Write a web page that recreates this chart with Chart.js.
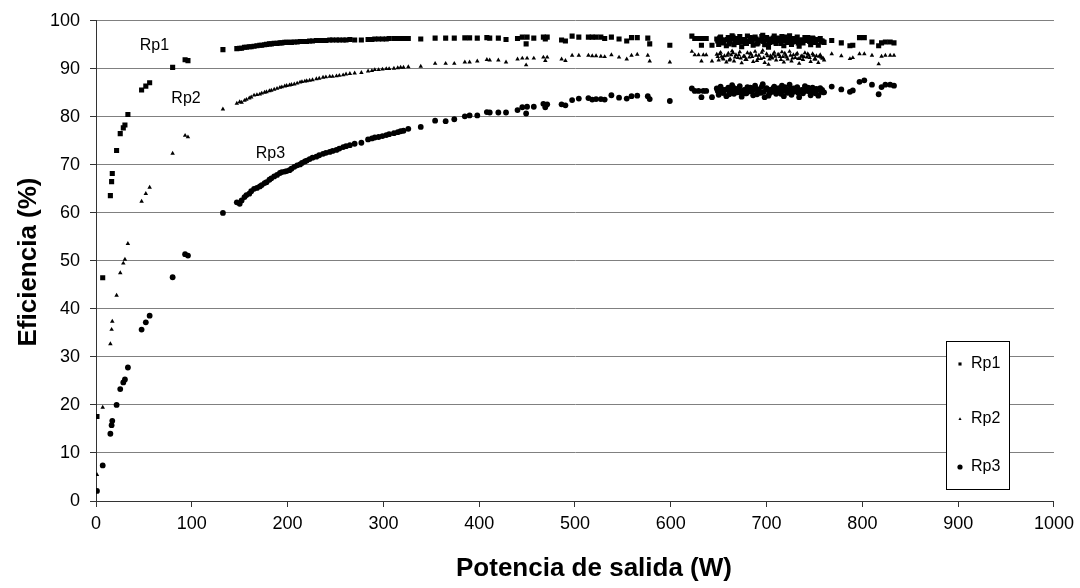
<!DOCTYPE html>
<html>
<head>
<meta charset="utf-8">
<script src="https://cdn.jsdelivr.net/npm/chart.js@4"></script>
<style>
  html, body { margin: 0; padding: 0; background: #fff; }
  #wrap { width: 1080px; height: 588px; position: relative; }
</style>
</head>
<body>
<div id="wrap"><canvas id="chart"></canvas></div>
<script>
// Potencia de salida (W), shared by the three series
const potencia = [
  1, 7, 15, 16.3, 17, 21.5, 25.3, 28.5, 30.2, 33.3,
  47.6, 52, 56, 80, 93, 96, 132.5,
  147, 150, 155, 160, 165, 171, 176, 181, 186, 192,
  197, 202, 207, 213, 218, 223, 230, 237, 244, 251,
  258, 265, 277, 284, 291, 299, 306, 315, 321, 326,
  339, 354, 365, 374, 385, 390, 398, 408, 411, 420,
  428, 440, 445, 449, 450, 457, 467, 469, 471, 486,
  490, 497, 504, 514, 518, 522, 527, 531, 538, 546,
  554, 559, 565, 576, 578, 599,
  622, 625, 629, 632, 634, 637, 643,
  648, 650, 652, 654, 656, 658, 660, 662, 664, 666,
  668, 670, 672, 674, 676, 678, 680, 682, 684, 686,
  688, 690, 692, 694, 696, 698, 700, 702, 704, 706,
  708, 710, 712, 714, 716, 718, 720, 722, 724, 726,
  728, 730, 732, 734, 736, 738, 740, 742, 744, 746,
  748, 750, 752, 754, 756, 758, 760, 653, 705, 735,
  768, 778, 787, 790, 797, 802, 810, 817, 820, 824, 829, 833,
  // second pass through the dense block
  649, 651, 655, 659, 661, 665, 667, 671, 673, 677,
  679, 683, 685, 689, 691, 695, 697, 701, 703, 707,
  709, 713, 715, 719, 721, 725, 727, 731, 733, 737,
  739, 743, 745, 749, 751, 755, 757, 759, 663, 717,
  // extra readings along the rising part
  152, 157, 162, 168, 173, 178, 183, 189, 194, 199,
  204, 210, 215, 220, 226, 233, 240, 247, 254, 261,
  270, 288, 295, 303, 311, 318
];

// Eficiencia (%)
const eficienciaRp1 = [
  17.6, 46.5, 63.6, 66.5, 68.2, 73.0, 76.5, 77.7, 78.3, 80.5,
  85.6, 86.4, 87.1, 90.3, 91.9, 91.7, 94.0,
  94.2, 94.3, 94.5, 94.6, 94.7, 94.9, 95.0, 95.2, 95.3, 95.4,
  95.5, 95.5, 95.6, 95.7, 95.7, 95.8, 95.9, 95.9, 96.0, 96.0,
  96.0, 96.1, 96.0, 96.1, 96.2, 96.2, 96.3, 96.3, 96.3, 96.3,
  96.2, 96.4, 96.4, 96.4, 96.45, 96.45, 96.4, 96.5, 96.4, 96.4,
  96.1, 96.3, 96.6, 95.2, 96.6, 96.4, 96.6, 96.2, 96.6, 96.0,
  95.8, 96.8, 96.6, 96.6, 96.6, 96.6, 96.6, 96.3, 96.6, 96.2,
  95.8, 96.5, 96.5, 96.4, 95.2, 94.9,
  96.8, 96.3, 96.3, 94.9, 96.3, 96.3, 94.9,
  96.2, 95.1, 96.6, 95.4, 96.0, 94.8, 96.5, 95.6, 96.9, 95.0,
  96.3, 95.5, 96.7, 94.6, 96.1, 95.3, 96.8, 95.7, 96.4, 94.9,
  96.6, 95.2, 96.0, 95.8, 97.0, 95.0, 96.5, 94.5, 96.2, 95.6,
  96.8, 95.3, 96.4, 95.9, 96.7, 94.8, 96.1, 95.5, 96.9, 95.1,
  96.3, 95.7, 96.6, 94.7, 96.0, 95.4, 96.5, 95.9, 96.2, 95.0,
  96.4, 95.6, 96.1, 94.9, 96.3, 95.8, 95.5, 96.0, 95.9, 95.7,
  95.9, 95.4, 94.8, 94.9, 96.5, 96.5, 95.6, 94.8, 95.4, 95.6, 95.6, 95.4,
  95.8, 96.4, 95.5, 96.1, 95.2, 96.6, 95.9, 96.3, 95.6, 96.0,
  95.3, 96.5, 95.8, 96.2, 95.4, 96.7, 95.7, 96.0, 95.5, 96.4,
  95.9, 96.2, 95.3, 96.6, 95.8, 96.1, 95.6, 96.3, 95.4, 96.0,
  95.9, 96.5, 95.7, 96.2, 95.5, 96.0, 95.8, 95.6, 96.3, 95.9,
  94.3, 94.5, 94.6, 94.8, 94.9, 95.1, 95.2, 95.3, 95.4, 95.5,
  95.5, 95.6, 95.7, 95.7, 95.8, 95.9, 95.9, 96.0, 96.0, 96.0,
  96.0, 96.1, 96.2, 96.2, 96.3, 96.3
];

const eficienciaRp2 = [
  5.5, 19.5, 32.7, 35.7, 37.4, 42.8, 47.5, 49.5, 50.3, 53.6,
  62.4, 64.0, 65.3, 72.4, 76.1, 75.8, 81.6,
  82.8, 83.1, 83.4, 83.9, 84.5, 84.7, 85.1, 85.4, 85.7, 86.1,
  86.4, 86.6, 86.8, 87.2, 87.4, 87.6, 87.9, 88.2, 88.4, 88.5,
  88.7, 89.0, 89.2, 89.5, 89.8, 89.9, 90.0, 90.2, 90.3, 90.4,
  90.5, 91.1, 91.1, 91.1, 91.4, 91.4, 91.6, 91.9, 91.8, 91.8,
  91.4, 92.0, 92.2, 90.8, 92.2, 92.2, 92.4, 91.7, 92.4, 92.0,
  91.7, 92.8, 92.8, 92.8, 92.7, 92.7, 92.6, 92.5, 92.9, 92.4,
  92.0, 92.8, 93.0, 92.8, 91.6, 91.4,
  93.6, 92.9, 92.9, 91.6, 92.9, 92.9, 91.6,
  93.0, 91.8, 93.4, 92.2, 92.7, 91.4, 93.2, 92.0, 93.7, 91.6,
  92.9, 92.3, 93.5, 91.2, 92.6, 91.9, 93.3, 92.4, 93.0, 91.5,
  93.6, 91.7, 92.8, 92.1, 93.8, 91.3, 93.1, 90.9, 92.7, 92.2,
  93.4, 91.8, 93.0, 92.5, 93.5, 91.4, 92.8, 92.0, 93.6, 91.6,
  92.9, 92.3, 93.2, 91.1, 92.6, 91.9, 93.3, 92.4, 92.8, 91.5,
  93.1, 92.0, 92.7, 91.3, 92.9, 92.2, 91.8, 92.6, 92.4, 92.1,
  93.1, 92.7, 92.1, 92.3, 93.1, 93.1, 92.8, 91.0, 92.6, 92.8, 92.8, 92.8,
  92.5, 93.1, 92.0, 92.8, 91.8, 93.3, 92.4, 92.9, 92.2, 92.6,
  91.9, 93.2, 92.5, 92.8, 92.1, 93.4, 92.3, 92.7, 92.0, 93.0,
  92.6, 92.9, 91.9, 93.2, 92.4, 92.8, 92.2, 93.0, 92.1, 92.7,
  92.5, 93.1, 92.3, 92.8, 92.0, 92.6, 92.4, 92.2, 92.9, 92.5,
  83.0, 83.6, 84.1, 84.6, 84.9, 85.2, 85.5, 85.9, 86.2, 86.5,
  86.7, 87.0, 87.3, 87.5, 87.7, 88.0, 88.3, 88.4, 88.6, 88.9,
  89.1, 89.6, 89.8, 90.0, 90.1, 90.3
];

const eficienciaRp3 = [
  2.1, 7.4, 14.0, 15.8, 16.7, 20.0, 23.3, 24.7, 25.3, 27.8,
  35.7, 37.2, 38.6, 46.6, 51.4, 51.1, 60.0,
  62.2, 61.9, 63.3, 64.0, 65.0, 65.5, 66.2, 66.9, 67.6, 68.3,
  68.6, 68.9, 69.6, 70.1, 70.7, 71.2, 71.7, 72.3, 72.7, 73.1,
  73.7, 74.1, 74.6, 75.3, 75.7, 76.0, 76.4, 76.8, 77.1, 77.5,
  77.9, 79.2, 79.1, 79.5, 80.1, 80.3, 80.3, 81.0, 80.9, 80.9,
  80.9, 81.4, 82.0, 80.7, 82.1, 82.1, 82.7, 82.0, 82.6, 82.6,
  82.4, 83.5, 83.8, 83.9, 83.6, 83.7, 83.7, 83.6, 84.5, 84.0,
  83.8, 84.3, 84.4, 84.3, 83.7, 83.3,
  85.9, 85.4, 85.4, 84.1, 85.4, 85.4, 84.1,
  85.9, 84.6, 86.3, 85.0, 85.6, 84.3, 86.1, 85.2, 86.6, 84.8,
  85.8, 85.1, 86.4, 84.2, 85.5, 84.9, 86.2, 85.3, 86.0, 84.5,
  86.5, 84.7, 85.7, 85.0, 86.8, 84.1, 86.0, 84.4, 85.6, 85.2,
  86.3, 84.8, 85.9, 85.4, 86.5, 84.3, 85.8, 85.0, 86.7, 84.6,
  85.9, 85.3, 86.2, 84.1, 85.5, 84.9, 86.4, 85.4, 86.0, 84.5,
  86.1, 85.2, 85.8, 84.4, 86.0, 85.6, 85.1, 85.7, 85.5, 85.3,
  86.3, 85.7, 85.2, 85.5, 87.3, 87.6, 86.7, 84.7, 86.2, 86.7, 86.7, 86.5,
  85.4, 86.0, 85.0, 85.7, 84.7, 86.2, 85.3, 85.9, 85.1, 85.6,
  84.9, 86.1, 85.4, 85.8, 85.0, 86.3, 85.2, 85.7, 84.9, 86.0,
  85.5, 85.9, 84.8, 86.2, 85.3, 85.8, 85.1, 86.0, 85.0, 85.6,
  85.4, 86.1, 85.2, 85.8, 84.9, 85.6, 85.3, 85.1, 85.9, 85.4,
  62.6, 63.7, 64.5, 65.2, 65.8, 66.4, 67.2, 67.9, 68.5, 68.7,
  69.2, 69.9, 70.4, 70.9, 71.5, 72.0, 72.5, 72.9, 73.4, 73.9,
  74.4, 75.5, 75.8, 76.2, 76.6, 77.0
];

const series = ['Rp1', 'Rp2', 'Rp3'];
const tituloX = 'Potencia de salida (W)';
const tituloY = 'Eficiencia (%)';

const toPoints = ys => potencia.map((x, i) => ({x: x, y: ys[i]}));

// labels next to each curve and the boxed legend, drawn after the datasets
const extras = {
  id: 'extras',
  afterDraw: (chart, args, opts) => {
    const {ctx, scales} = chart;
    ctx.save();
    ctx.fillStyle = '#000';
    ctx.font = '16px "Liberation Sans", Arial, sans-serif';
    ctx.textAlign = 'center';
    ctx.textBaseline = 'middle';
    opts.curveLabels.forEach(l => {
      ctx.fillText(l.text, scales.x.getPixelForValue(l.x), scales.y.getPixelForValue(l.y));
    });

    // legend box
    const b = opts.legendBox;
    ctx.fillStyle = '#fff';
    ctx.fillRect(b.x, b.y, b.w, b.h);
    ctx.strokeStyle = '#000';
    ctx.lineWidth = 1;
    ctx.strokeRect(b.x + 0.5, b.y + 0.5, b.w, b.h);
    ctx.textAlign = 'left';
    chart.data.datasets.forEach((ds, i) => {
      const cy = b.y + b.rows[i];
      ctx.fillStyle = '#000';
      Chart.helpers.drawPoint(ctx, {
        pointStyle: ds.pointStyle, radius: b.markerRadius[i], borderWidth: 0, rotation: 0
      }, b.x + 14, cy);
      ctx.fillText(ds.label, b.x + 25, cy);
    });

    // axis titles
    ctx.fillStyle = '#000';
    ctx.font = 'bold 26px "Liberation Sans", Arial, sans-serif';
    ctx.textAlign = 'center';
    ctx.textBaseline = 'alphabetic';
    ctx.fillText(tituloX, 594, 576);
    ctx.translate(29, 262);
    ctx.rotate(-Math.PI / 2);
    ctx.textBaseline = 'middle';
    ctx.fillText(tituloY, 0, 0);
    ctx.restore();
  }
};

const tickFont = {family: '"Liberation Sans", Arial, sans-serif', size: 18};

new Chart(document.getElementById('chart'), {
  type: 'scatter',
  data: {
    datasets: [
      {label: series[0], data: toPoints(eficienciaRp1), pointStyle: 'rect', pointRadius: 3.6,
       backgroundColor: '#000', borderColor: '#000', borderWidth: 0},
      {label: series[1], data: toPoints(eficienciaRp2), pointStyle: 'triangle', pointRadius: 2.6,
       backgroundColor: '#000', borderColor: '#000', borderWidth: 0},
      {label: series[2], data: toPoints(eficienciaRp3), pointStyle: 'circle', pointRadius: 2.9,
       backgroundColor: '#000', borderColor: '#000', borderWidth: 0}
    ]
  },
  options: {
    responsive: true,
    maintainAspectRatio: false,
    animation: false,
    layout: {padding: {top: 17, right: 24, left: 0, bottom: 0}},
    scales: {
      x: {
        type: 'linear', min: 0, max: 1000,
        ticks: {stepSize: 100, color: '#000', font: tickFont, padding: 6, maxRotation: 0,
                callback: v => String(v)},
        grid: {drawOnChartArea: false, tickLength: 6, tickColor: '#333'},
        border: {color: '#333'},
        afterFit: s => { s.height = 87; }
      },
      y: {
        min: 0, max: 100,
        ticks: {stepSize: 10, color: '#000', font: tickFont, padding: 10,
                callback: v => String(v)},
        grid: {color: '#808080', tickLength: 6, tickColor: '#333'},
        border: {color: '#333'},
        afterFit: s => { s.width = 96; }
      }
    },
    plugins: {
      legend: {display: false},
      tooltip: {enabled: false},
      extras: {
        curveLabels: [
          {text: series[0], x: 61, y: 94.8},
          {text: series[1], x: 94, y: 83.7},
          {text: series[2], x: 182, y: 72.4}
        ],
        legendBox: {x: 946, y: 341, w: 63, h: 148, rows: [23, 78, 126], markerRadius: [2.2, 1.8, 2.6]}
      }
    }
  },
  plugins: [extras]
});
</script>
</body>
</html>
